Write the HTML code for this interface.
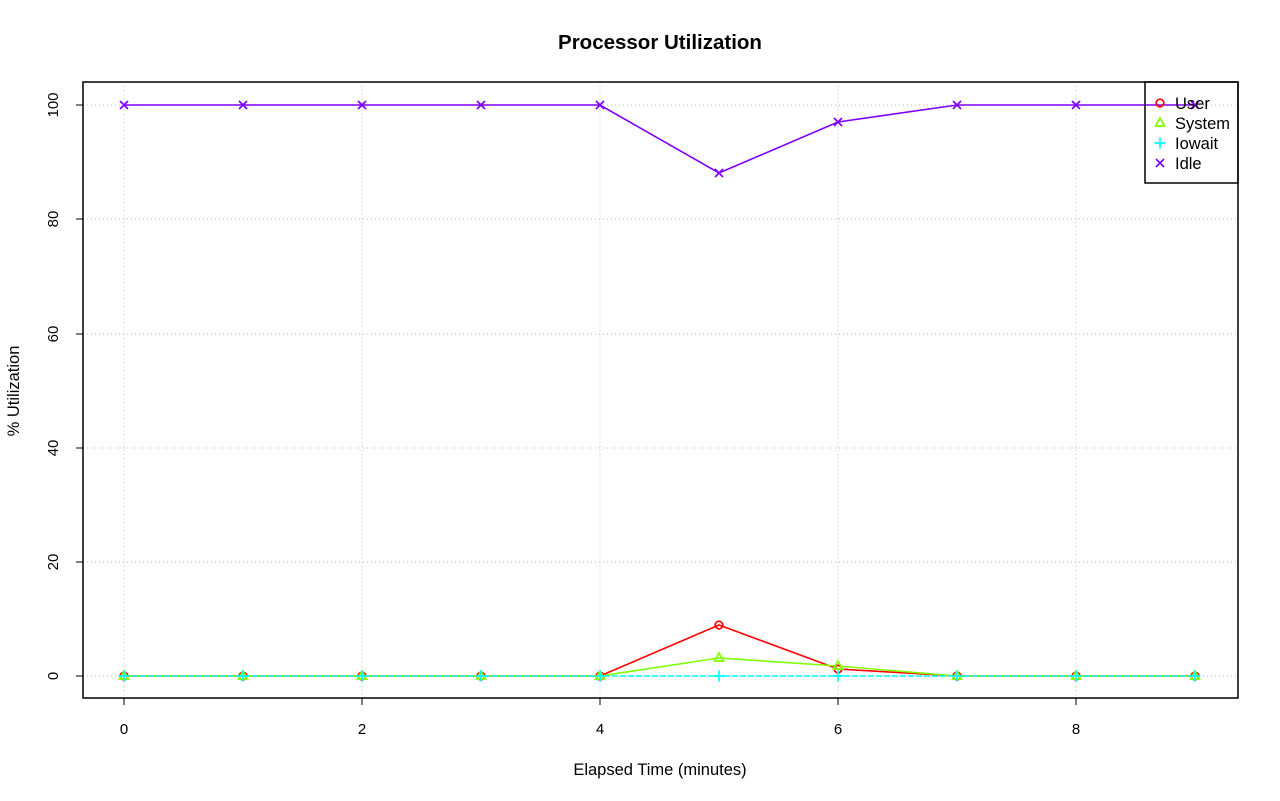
<!DOCTYPE html>
<html><head><style>body{margin:0;background:#fff}svg{display:block}</style></head><body>
<svg width="1280" height="801" xmlns="http://www.w3.org/2000/svg" font-family="Liberation Sans, sans-serif">
<defs>
<g id="c"><circle r="3.8" fill="none" stroke="#ff0000" stroke-width="1.7"/></g>
<g id="t"><path d="M0,-5 L4.5,3 L-4.5,3 Z" fill="none" stroke="#80ff00" stroke-width="1.7"/></g>
<g id="p"><path d="M-5.5,0 H5.5 M0,-5.5 V5.5" stroke="#00ffff" stroke-width="1.7"/></g>
<g id="x"><path d="M-4,-4 L4,4 M-4,4 L4,-4" stroke="#8000ff" stroke-width="1.7"/></g>
</defs>
<text x="660" y="49" text-anchor="middle" font-size="20.5" font-weight="bold">Processor Utilization</text>
<g stroke="#c8c8c8" stroke-dasharray="1,3" stroke-width="1.2">
<path d="M124,82V698M362,82V698M600,82V698M838,82V698M1076,82V698"/>
<path d="M83,676H1238M83,562H1238M83,448H1238M83,334H1238M83,219H1238M83,105H1238"/>
</g>
<rect x="83" y="82" width="1155" height="616" fill="none" stroke="#000" stroke-width="1.5"/>
<g stroke="#000" stroke-width="1">
<path d="M124,698v7M362,698v7M600,698v7M838,698v7M1076,698v7M124,698H1076"/>
<path d="M83,676h-7M83,562h-7M83,448h-7M83,334h-7M83,219h-7M83,105h-7"/>
</g>
<g font-size="15" text-anchor="middle">
<text x="124" y="734">0</text><text x="362" y="734">2</text><text x="600" y="734">4</text><text x="838" y="734">6</text><text x="1076" y="734">8</text>
<text x="660" y="775" font-size="16.5">Elapsed Time (minutes)</text>
<g transform="translate(58,0)">
<text transform="translate(0,676) rotate(-90)">0</text>
<text transform="translate(0,562) rotate(-90)">20</text>
<text transform="translate(0,448) rotate(-90)">40</text>
<text transform="translate(0,334) rotate(-90)">60</text>
<text transform="translate(0,219) rotate(-90)">80</text>
<text transform="translate(0,105) rotate(-90)">100</text>
</g>
<text transform="translate(19,391) rotate(-90)" font-size="16.5">% Utilization</text>
</g>
<g fill="none" stroke-width="1.6">
<polyline stroke="#ff0000" points="124,676 243,676 362,676 481,676 600,676 719,625 838,669 957,676 1076,676 1195,676"/>
<polyline stroke="#80ff00" points="124,676 243,676 362,676 481,676 600,676 719,658 838,666 957,676 1076,676 1195,676"/>
<polyline stroke="#00ffff" stroke-dasharray="6,2" points="124,676 1195,676"/>
<polyline stroke="#8000ff" points="124,105 243,105 362,105 481,105 600,105 719,173 838,122 957,105 1076,105 1195,105"/>
</g>
<g>
<use href="#c" x="124" y="676"/><use href="#c" x="243" y="676"/><use href="#c" x="362" y="676"/><use href="#c" x="481" y="676"/><use href="#c" x="600" y="676"/><use href="#c" x="719" y="625"/><use href="#c" x="838" y="669"/><use href="#c" x="957" y="676"/><use href="#c" x="1076" y="676"/><use href="#c" x="1195" y="676"/>
<use href="#t" x="124" y="676"/><use href="#t" x="243" y="676"/><use href="#t" x="362" y="676"/><use href="#t" x="481" y="676"/><use href="#t" x="600" y="676"/><use href="#t" x="719" y="658"/><use href="#t" x="838" y="666"/><use href="#t" x="957" y="676"/><use href="#t" x="1076" y="676"/><use href="#t" x="1195" y="676"/>
<use href="#p" x="124" y="676"/><use href="#p" x="243" y="676"/><use href="#p" x="362" y="676"/><use href="#p" x="481" y="676"/><use href="#p" x="600" y="676"/><use href="#p" x="719" y="676"/><use href="#p" x="838" y="676"/><use href="#p" x="957" y="676"/><use href="#p" x="1076" y="676"/><use href="#p" x="1195" y="676"/>
<use href="#x" x="124" y="105"/><use href="#x" x="243" y="105"/><use href="#x" x="362" y="105"/><use href="#x" x="481" y="105"/><use href="#x" x="600" y="105"/><use href="#x" x="719" y="173"/><use href="#x" x="838" y="122"/><use href="#x" x="957" y="105"/><use href="#x" x="1076" y="105"/><use href="#x" x="1195" y="105"/>
</g>
<rect x="1145" y="82" width="93" height="101" fill="none" stroke="#000" stroke-width="1.5"/>
<use href="#c" x="1160" y="103"/><use href="#t" x="1160" y="123"/><use href="#p" x="1160" y="143"/><use href="#x" x="1160" y="163"/>
<g font-size="16.5">
<text x="1175" y="109">User</text><text x="1175" y="129">System</text><text x="1175" y="149">Iowait</text><text x="1175" y="169">Idle</text>
</g>
</svg>
</body></html>
